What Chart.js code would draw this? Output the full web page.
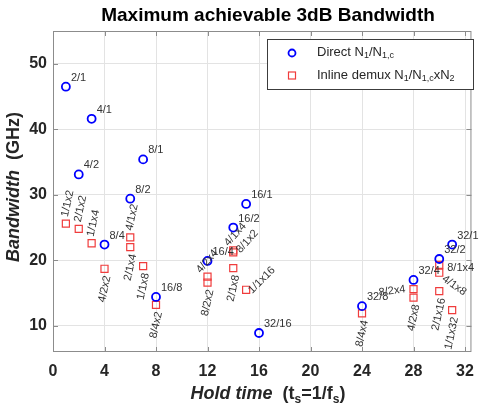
<!DOCTYPE html>
<html>
<head>
    <title>Maximum achievable 3dB Bandwidth</title>
    <style>
        body {
            margin: 0;
            padding: 0;
            background-color: #fff;
        }
        #chart-container {
            width: 484px;
            height: 404px;
        }
    </style>
</head>
<body>
    <div id="chart-container">
        <canvas id="bw-chart" width="484" height="404"></canvas>
    </div>

    <script src="https://cdn.jsdelivr.net/npm/chart.js"></script>
    <script>
        // Direct N1/N1,c
        const directX = [1, 2, 3, 4, 6, 7, 8, 12, 14, 15, 16, 24, 28, 30, 31];
        const directY = [46.5, 33.1, 41.6, 22.4, 29.4, 35.4, 14.4, 19.9, 25.0, 28.6, 8.9, 13.0, 17.0, 20.2, 22.4];
        const directLabels = ['2/1', '4/2', '4/1', '8/4', '8/2', '8/1', '16/8', '16/4', '16/2', '16/1', '32/16', '32/8', '32/4', '32/2', '32/1'];

        // Inline demux N1/N1,c x N2
        const inlineX = [1, 2, 3, 4, 6, 6, 7, 8, 12, 12, 14, 14, 14, 15, 24, 28, 28, 30, 30, 30, 31];
        const inlineY = [25.6, 24.8, 22.6, 18.7, 23.5, 22.0, 19.1, 13.2, 17.5, 16.6, 21.5, 21.2, 18.8, 15.5, 11.9, 15.6, 14.3, 19.3, 18.1, 15.3, 12.4];
        const inlineLabels = ['1/1x2', '2/1x2', '1/1x4', '4/2x2', '4/1x2', '2/1x4', '1/1x8', '8/4x2', '4/2x4', '8/2x2', '4/1x4', '8/1x2', '2/1x8', '1/1x16', '8/4x4', '8/2x4', '4/2x8', '8/1x4', '4/1x8', '2/1x16', '1/1x32'];

        // axis ticks
        const xTicks = [0, 4, 8, 12, 16, 20, 24, 28, 32];
        const yTicks = [10, 20, 30, 40, 50];

        // label placement: [dx, dy, angle(deg), align]
        const ABOVE = [-1, -7, -78, 'left'];
        const BELOW = [3, 7, -78, 'right'];
        const directPos = directLabels.map(() => [5, -9, 0, 'left']);
        const inlinePos = [ABOVE, ABOVE, ABOVE, BELOW, ABOVE, BELOW, BELOW, BELOW,
            [-9, -5, -50, 'left'], BELOW, [-7, -6, -48, 'left'], [5, -1, -48, 'left'],
            BELOW, [4, 2, -45, 'left'], BELOW, [-8, 0, -8, 'right'], BELOW,
            [8, 3, 0, 'left'], [4, 5, 35, 'left'], BELOW, BELOW];

        const FONT = '"Liberation Sans", Arial, sans-serif';
        const BLUE = '#0000ff';
        const RED = '#f03c3c';
        const BOX = '#8c8c8c';

        function toPoints(xs, ys) {
            return xs.map((x, i) => ({ x: x, y: ys[i] }));
        }

        // text pieces: style letters B = bold, I = italic, S = subscript
        function partFont(style, size) {
            const s = style.includes('S') ? Math.round(size * 0.68) : size;
            let f = '';
            if (style.includes('I')) f += 'italic ';
            if (style.includes('B')) f += 'bold ';
            return f + s + 'px ' + FONT;
        }
        function richWidth(ctx, parts, size) {
            let w = 0;
            parts.forEach(p => {
                ctx.font = partFont(p[1], size);
                w += ctx.measureText(p[0]).width;
            });
            return w;
        }
        function drawRich(ctx, parts, x, y, size) {
            let cx = x;
            parts.forEach(p => {
                ctx.font = partFont(p[1], size);
                const dy = p[1].includes('S') ? size * 0.3 : 0;
                ctx.fillText(p[0], cx, y + dy);
                cx += ctx.measureText(p[0]).width;
            });
        }

        const decorPlugin = {
            id: 'decor',
            afterDatasetsDraw(chart) {
                const ctx = chart.ctx;
                const a = chart.chartArea;
                const xs = chart.scales.x, ys = chart.scales.y;
                ctx.save();

                // box + inward ticks
                ctx.strokeStyle = BOX;
                ctx.lineWidth = 1;
                ctx.strokeRect(a.left + 0.5, a.top + 0.5, a.right - a.left - 1, a.bottom - a.top - 1);
                ctx.beginPath();
                xTicks.forEach(t => {
                    const px = Math.round(xs.getPixelForValue(t)) + 0.5;
                    ctx.moveTo(px, a.bottom); ctx.lineTo(px, a.bottom - 5);
                    ctx.moveTo(px, a.top); ctx.lineTo(px, a.top + 5);
                });
                yTicks.forEach(t => {
                    const py = Math.round(ys.getPixelForValue(t)) + 0.5;
                    ctx.moveTo(a.left, py); ctx.lineTo(a.left + 5, py);
                    ctx.moveTo(a.right, py); ctx.lineTo(a.right - 5, py);
                });
                ctx.stroke();

                // point labels
                ctx.fillStyle = '#333';
                ctx.font = '11px ' + FONT;
                ctx.textBaseline = 'middle';
                const groups = [[0, directLabels, directPos], [1, inlineLabels, inlinePos]];
                groups.forEach(g => {
                    const meta = chart.getDatasetMeta(g[0]);
                    meta.data.forEach((el, i) => {
                        const pos = g[2][i];
                        ctx.save();
                        ctx.translate(el.x + pos[0], el.y + pos[1]);
                        ctx.rotate(pos[2] * Math.PI / 180);
                        ctx.textAlign = pos[3];
                        ctx.fillText(g[1][i], 0, 0);
                        ctx.restore();
                    });
                });

                // legend
                ctx.fillStyle = '#fff';
                ctx.fillRect(267, 39, 206, 50);
                ctx.strokeStyle = '#3c3c3c';
                ctx.lineWidth = 1;
                ctx.strokeRect(267.5, 39.5, 206, 50);
                ctx.strokeStyle = BLUE;
                ctx.lineWidth = 1.8;
                ctx.beginPath();
                ctx.arc(292, 53, 3.5, 0, Math.PI * 2);
                ctx.stroke();
                ctx.strokeStyle = RED;
                ctx.lineWidth = 1.2;
                ctx.strokeRect(288.5, 72, 7, 7);
                ctx.fillStyle = '#262626';
                ctx.textAlign = 'left';
                drawRich(ctx, [['Direct N', ''], ['1', 'S'], ['/N', ''], ['1,c', 'S']], 317, 52, 13);
                drawRich(ctx, [['Inline demux N', ''], ['1', 'S'], ['/N', ''], ['1,c', 'S'], ['xN', ''], ['2', 'S']], 317, 75, 13);

                // title
                ctx.fillStyle = '#000';
                ctx.textAlign = 'center';
                ctx.font = 'bold 19px ' + FONT;
                ctx.fillText('Maximum achievable 3dB Bandwidth', 268, 16);

                // axis titles
                ctx.fillStyle = '#262626';
                ctx.textAlign = 'left';
                const xt = [['Hold time', 'BI'], ['  (t', 'B'], ['s', 'BS'], ['=1/f', 'B'], ['s', 'BS'], [')', 'B']];
                const xw = richWidth(ctx, xt, 18);
                drawRich(ctx, xt, 268 - xw / 2, 394, 18);

                const yt = [['Bandwidth', 'BI'], ['  (GHz)', 'B']];
                const yw = richWidth(ctx, yt, 18);
                ctx.translate(14, 187);
                ctx.rotate(-Math.PI / 2);
                drawRich(ctx, yt, -yw / 2, 0, 18);

                ctx.restore();
            }
        };

        const ctx = document.getElementById('bw-chart').getContext('2d');
        const chart = new Chart(ctx, {
            type: 'scatter',
            data: {
                datasets: [{
                    label: 'Direct',
                    data: toPoints(directX, directY),
                    pointStyle: 'circle',
                    pointRadius: 4,
                    borderColor: BLUE,
                    borderWidth: 1.8,
                    backgroundColor: 'rgba(0,0,0,0)'
                }, {
                    label: 'Inline demux',
                    data: toPoints(inlineX, inlineY),
                    pointStyle: 'rect',
                    pointRadius: 5,
                    borderColor: RED,
                    borderWidth: 1.2,
                    backgroundColor: 'rgba(0,0,0,0)'
                }]
            },
            options: {
                responsive: false,
                animation: false,
                layout: { padding: { left: 0, top: 31, right: 2, bottom: 0 } },
                plugins: {
                    legend: { display: false },
                    title: { display: false },
                    tooltip: { enabled: false }
                },
                scales: {
                    x: {
                        type: 'linear',
                        min: 0,
                        max: 32.5,
                        afterFit: s => { s.height = 52; },
                        afterBuildTicks: s => { s.ticks = xTicks.map(v => ({ value: v })); },
                        grid: { color: '#e3e3e3', drawTicks: false },
                        border: { display: false },
                        ticks: {
                            padding: 10,
                            color: '#262626',
                            font: { family: FONT, size: 16, weight: 'bold' }
                        }
                    },
                    y: {
                        min: 6,
                        max: 55,
                        afterFit: s => { s.width = 53; },
                        afterBuildTicks: s => { s.ticks = yTicks.map(v => ({ value: v })); },
                        grid: { color: '#e3e3e3', drawTicks: false },
                        border: { display: false },
                        ticks: {
                            padding: 6,
                            color: '#262626',
                            font: { family: FONT, size: 16, weight: 'bold' }
                        }
                    }
                }
            },
            plugins: [decorPlugin]
        });
    </script>
</body>
</html>
